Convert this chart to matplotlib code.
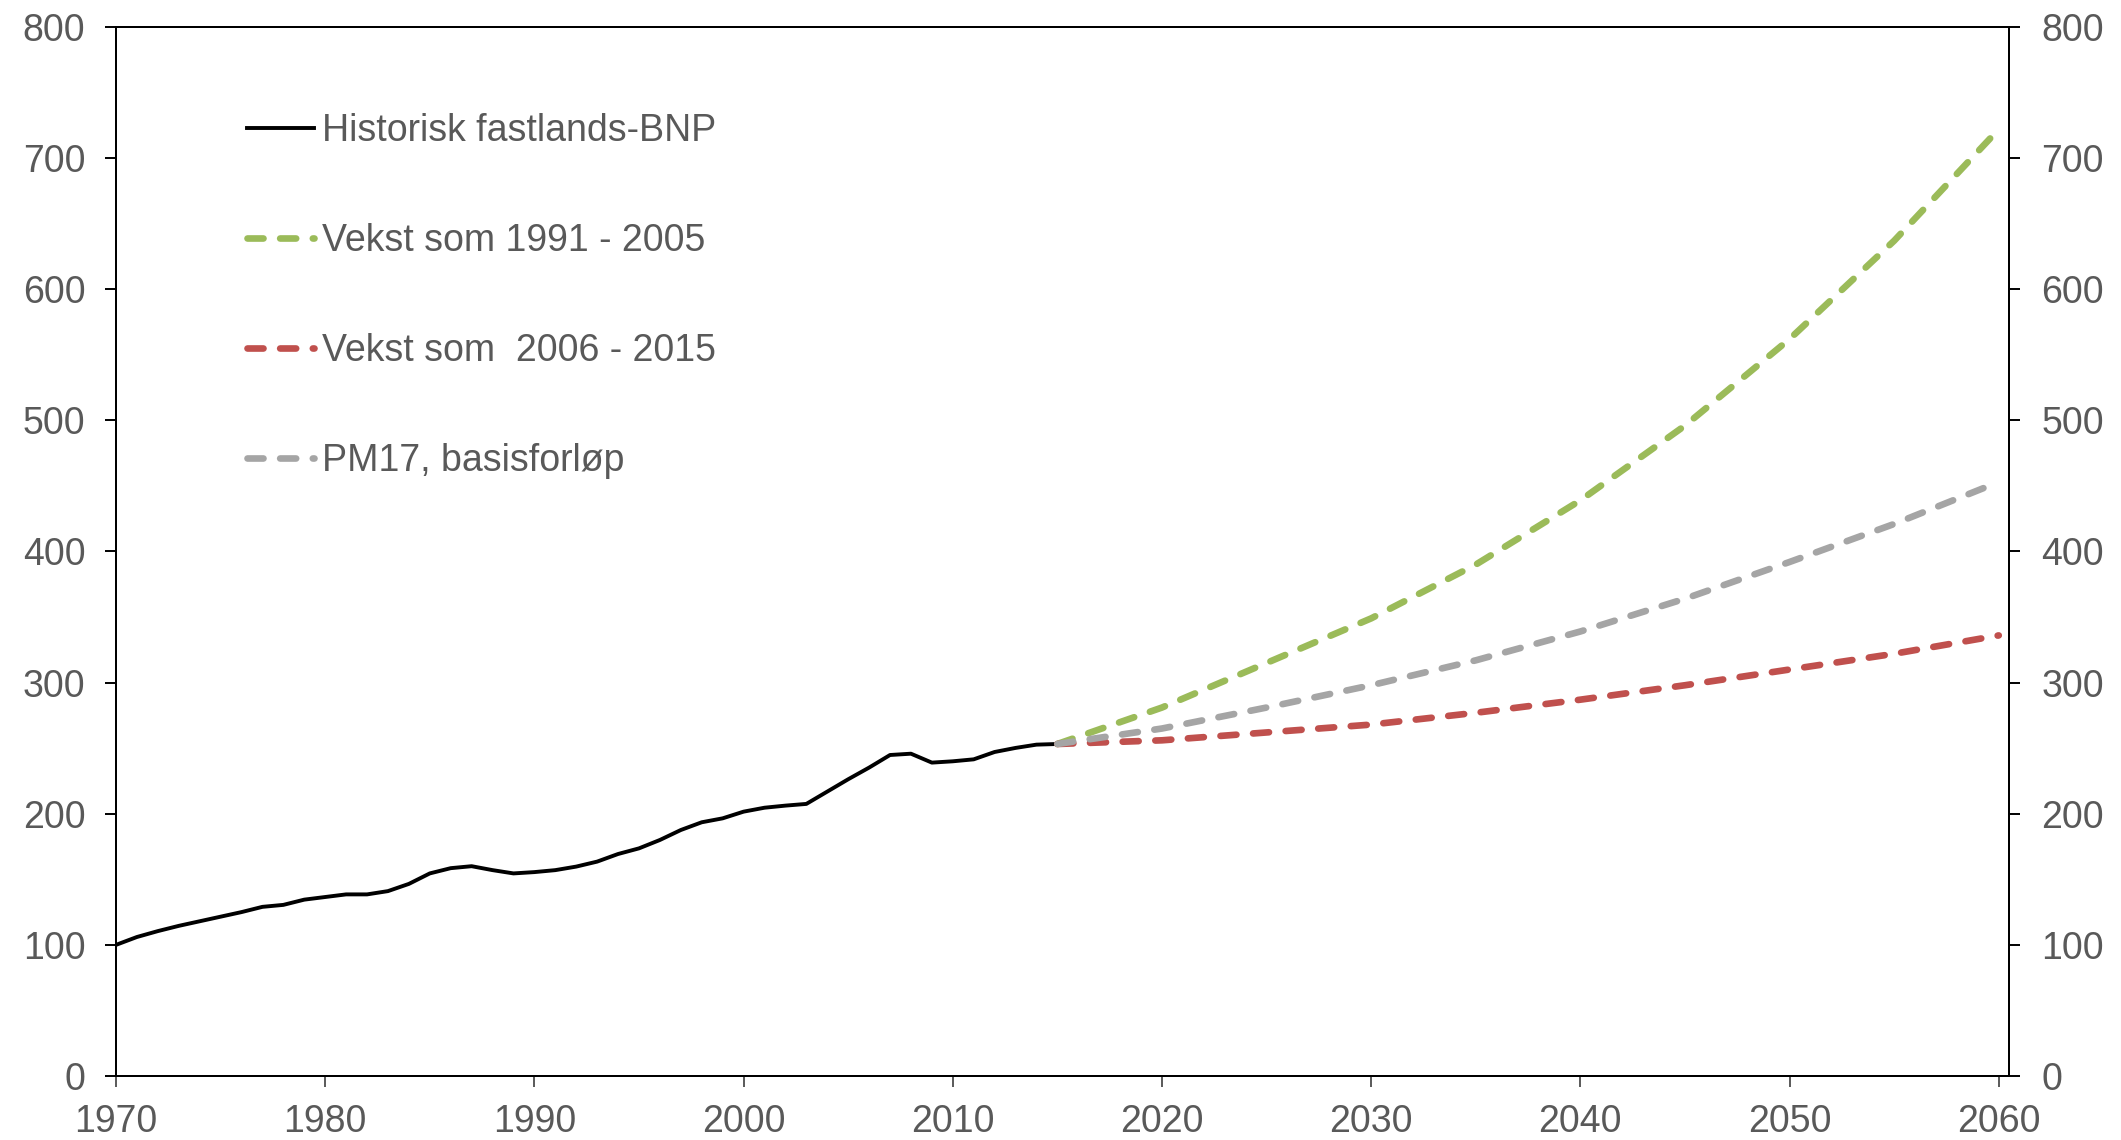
import matplotlib.pyplot as plt

plt.rcParams['font.family'] = ['Liberation Sans', 'DejaVu Sans']

# historisk fastlands-BNP, indeks 1970 = 100
hist_years = list(range(1970, 2016))
hist_values = [100, 106, 110.5, 114.5, 118, 121.5, 125, 129, 130.5, 134.5,
               136.5, 138.5, 138.5, 141, 146.5, 154.5, 158.5, 160, 157, 154.5,
               155.5, 157, 159.7, 163.5, 169.3, 173.6, 180, 187.6, 193.5, 196.5,
               201.6, 204.6, 206.2, 207.5, 216.9, 226.3, 235.2, 244.8, 245.8, 239,
               240, 241.5, 247.1, 250.2, 252.7, 253.2]

proj_years = [2015, 2020, 2025, 2030, 2035, 2040, 2045, 2050, 2055, 2060]
green_values = [253.2, 281, 315, 349, 390, 439, 496, 562, 637, 722]
red_values = [253.2, 256, 262, 268, 277, 287, 298, 310, 322, 336]
grey_values = [253.2, 265, 281, 298, 317, 339, 364, 392, 421, 453]

labels = ['Historisk fastlands-BNP', 'Vekst som 1991 - 2005',
          'Vekst som  2006 - 2015', 'PM17, basisforløp']

text_col = '#595959'
fs = 27

fig = plt.figure(figsize=(21.21, 11.40), dpi=100)
ax = fig.add_axes([0.05469, 0.05614, 0.89261, 0.92018])

dash_kw = dict(linewidth=4.8, dashes=(2.4, 2.5), dash_capstyle='round')
ax.plot(hist_years, hist_values, color='black', linewidth=2.8, label=labels[0])
ax.plot(proj_years, green_values, color='#9BBB59', label=labels[1], **dash_kw)
ax.plot(proj_years, red_values, color='#C0504D', label=labels[2], **dash_kw)
ax.plot(proj_years, grey_values, color='#A5A5A5', label=labels[3], **dash_kw)

ax.set_xlim(1970, 2060.5)
ax.set_ylim(0, 800)
ax.set_xticks(range(1970, 2061, 10))
ax.set_yticks(range(0, 801, 100))

ax2 = ax.twinx()
ax2.set_ylim(0, 800)
ax2.set_yticks(range(0, 801, 100))

for a in (ax, ax2):
    for s in a.spines.values():
        s.set_linewidth(1.4)
        s.set_color('black')
    a.tick_params(labelsize=fs, labelcolor=text_col, length=8, width=1.4)
ax.tick_params(axis='x', pad=12, color=text_col)
ax.tick_params(axis='y', pad=14)
ax2.tick_params(axis='y', pad=15)

leg = ax.legend(loc='upper left', bbox_to_anchor=(0.069, 0.918), frameon=False,
                fontsize=fs, handlelength=1.8, handletextpad=0.2,
                labelspacing=1.97, borderpad=0, borderaxespad=0)
for t in leg.get_texts():
    t.set_color(text_col)

fig.savefig('out.png', dpi=100)
